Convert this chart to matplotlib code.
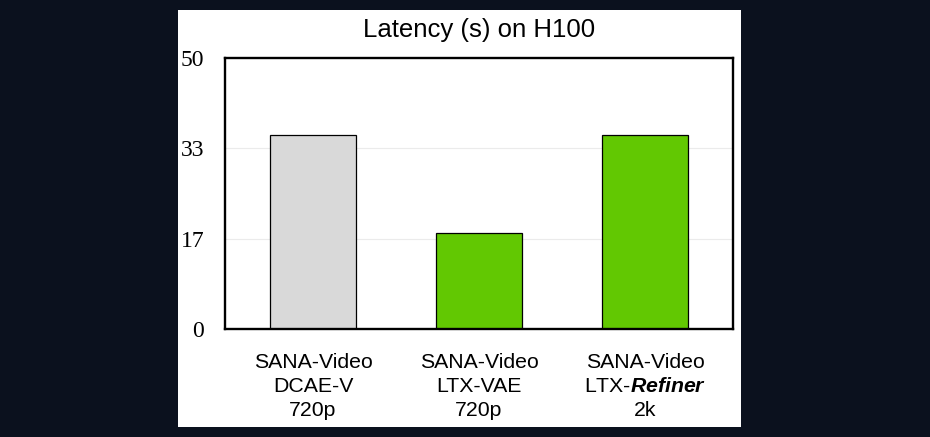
import matplotlib
matplotlib.use("Agg")
import matplotlib.pyplot as plt
from matplotlib.patches import Rectangle

categories = ["SANA-Video\nDCAE-V\n720p",
              "SANA-Video\nLTX-VAE\n720p",
              "SANA-Video\nLTX-$\\mathbfit{Refiner}$\n2k"]
latency = [35.8, 17.8, 35.8]
bar_colors = ["#d9d9d9", "#62c802", "#62c802"]
yticks = [0, 50 / 3, 100 / 3, 50]
ytick_labels = ["0", "17", "33", "50"]
title = "Latency (s) on H100"

plt.rcParams["mathtext.fontset"] = "custom"
plt.rcParams["mathtext.rm"] = "Liberation Sans"
plt.rcParams["mathtext.it"] = "Liberation Sans:italic"
plt.rcParams["mathtext.bf"] = "Liberation Sans:bold"
plt.rcParams["mathtext.bfit"] = "Liberation Sans:bold:italic"

W, H = 930, 437
fig = plt.figure(figsize=(W / 100, H / 100), dpi=100)
fig.patch.set_facecolor("#0b111e")
fig.patches.append(Rectangle((178 / W, 1 - 427 / H), (741 - 178) / W, (427 - 10) / H,
                             transform=fig.transFigure, facecolor="white",
                             edgecolor="none", zorder=-5))

ax = fig.add_axes([225 / W, 1 - 329 / H, (733 - 225) / W, (329 - 58) / H])
ax.set_zorder(2)
ax.set_facecolor("white")
x = list(range(len(categories)))
ax.bar(x, latency, width=0.52, color=bar_colors, edgecolor="black", linewidth=0.9, zorder=3)
ax.set_xlim(-0.53, 2.53)
ax.set_ylim(0, 50)
ax.set_yticks(yticks)
ax.set_yticklabels(ytick_labels, fontfamily="Liberation Serif", fontsize=17)
ax.set_xticks(x)
ax.set_xticklabels(categories, fontfamily="Liberation Sans", fontsize=15.3, linespacing=1.33)
ax.tick_params(axis="y", length=0, pad=15)
ax.tick_params(axis="x", length=0, pad=17.5)
ax.grid(axis="y", color="#ebebeb", linewidth=0.8, zorder=0)
for s in ax.spines.values():
    s.set_linewidth(1.7)
    s.set_color("black")
    s.set_zorder(4)
ax.set_title(title, fontfamily="Liberation Sans", fontsize=18.5, pad=15)

fig.savefig("out.png", dpi=100, facecolor=fig.get_facecolor())
